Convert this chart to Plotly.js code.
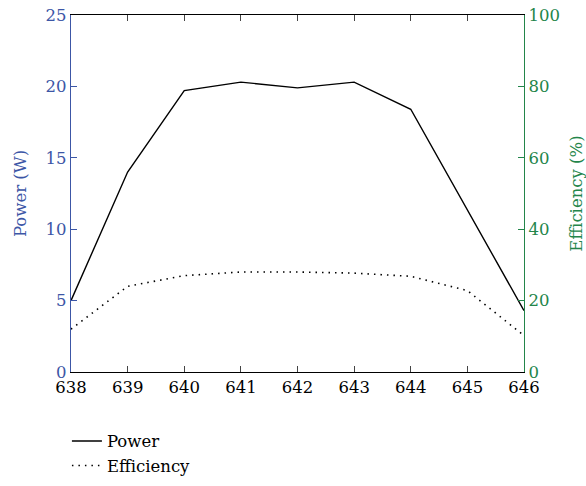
<!DOCTYPE html>
<html>
<head>
<meta charset="utf-8">
<script src="https://cdn.plot.ly/plotly-3.0.1.min.js"></script>
<style>html,body{margin:0;padding:0;background:#fff}</style>
</head>
<body>
<div id="chart" style="width:586px;height:486px"></div>
<script>
const wavelength = [638, 639, 640, 641, 642, 643, 644, 645, 646];
const power = [5.0, 14.0, 19.7, 20.3, 19.9, 20.3, 18.4, 11.4, 4.3];
const efficiency = [12.0, 24.0, 27.0, 28.0, 28.0, 27.7, 26.8, 22.8, 10.2];

const blue = '#3c56a6';
const green = '#23854a';
const font = '"DejaVu Serif", serif';
const fs = 16.5;

const traces = [
  {x: wavelength, y: power, name: 'Power', type: 'scatter', mode: 'lines',
   line: {color: '#000', width: 1.4}, yaxis: 'y'},
  {x: wavelength, y: efficiency, name: 'Efficiency', type: 'scatter', mode: 'lines',
   line: {color: '#000', width: 1.6, dash: '1.5px,5px'}, yaxis: 'y2'}
];

const layout = {
  width: 586, height: 486,
  margin: {l: 71, r: 62, t: 15, b: 114, autoexpand: false},
  paper_bgcolor: '#fff', plot_bgcolor: '#fff',
  font: {family: font, size: fs, color: '#000'},
  showlegend: true,
  legend: {x: -0.009, y: -0.145, xanchor: 'left', yanchor: 'top',
    font: {family: font, size: fs, color: '#000'}, bgcolor: 'rgba(0,0,0,0)', tracegroupgap: 0},
  xaxis: {range: [638, 646], dtick: 1, tick0: 638, ticks: 'inside', ticklen: 6,
    showline: true, linecolor: '#000', linewidth: 1.2, mirror: 'ticks', showgrid: false, zeroline: false,
    tickfont: {family: font, size: fs, color: '#000'}, automargin: false},
  yaxis: {range: [0, 25], dtick: 5, ticks: 'inside', ticklen: 6, tickcolor: blue,
    showline: true, linecolor: blue, linewidth: 1.2, showgrid: false, zeroline: false,
    tickfont: {family: font, size: fs, color: blue}, automargin: false,
    title: {text: 'Power (W)', font: {family: font, size: fs, color: blue}, standoff: 14}},
  yaxis2: {range: [0, 100], dtick: 20, overlaying: 'y', side: 'right', ticks: 'inside', ticklen: 6,
    tickcolor: green, showline: true, linecolor: green, linewidth: 1.2, showgrid: false, zeroline: false,
    tickfont: {family: font, size: fs, color: green}, automargin: false,
    title: {text: 'Efficiency (%)', font: {family: font, size: fs, color: green}, standoff: 14}}
};

Plotly.newPlot('chart', traces, layout, {staticPlot: true, displayModeBar: false});
</script>
</body>
</html>
